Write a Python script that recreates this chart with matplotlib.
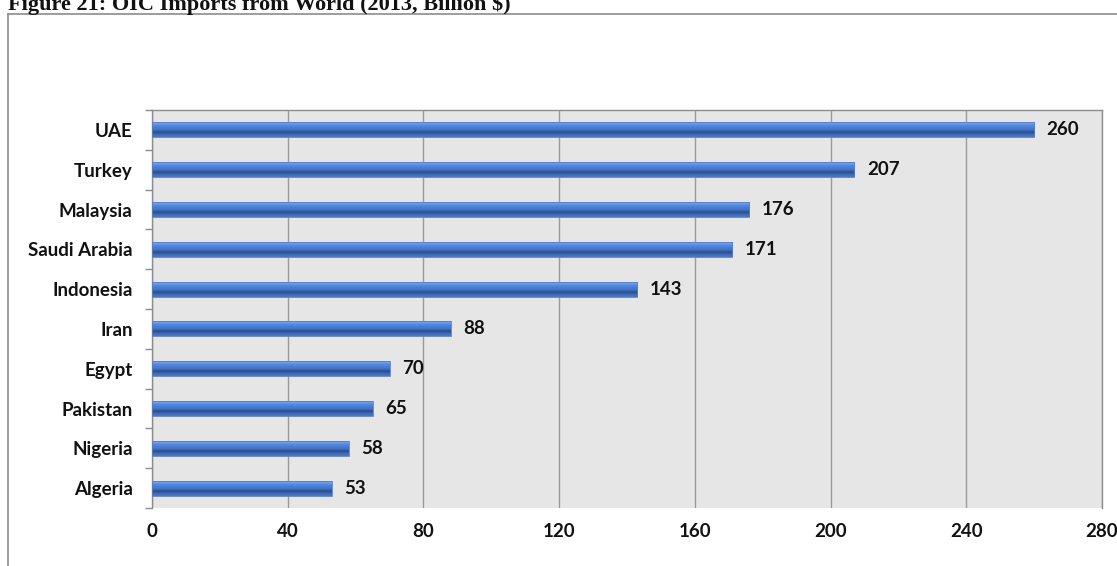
import matplotlib
matplotlib.use("Agg")
import matplotlib.pyplot as plt
import numpy as np
from matplotlib.colors import LinearSegmentedColormap
from matplotlib.patches import Rectangle
from matplotlib.lines import Line2D

countries = ["UAE", "Turkey", "Malaysia", "Saudi Arabia", "Indonesia", "Iran",
             "Egypt", "Pakistan", "Nigeria", "Algeria"]
values = [260, 207, 176, 171, 143, 88, 70, 65, 58, 53]
xticks = [0, 40, 80, 120, 160, 200, 240, 280]
title = "Figure 21: OIC Imports from World (2013, Billion $)"

W, H = 1117, 566
fig = plt.figure(figsize=(W / 100, H / 100), dpi=100)
fig.patch.set_facecolor("white")

# outer frame (left and top)
fig.add_artist(Line2D([8 / W, 8 / W], [0, 1 - 14 / H], transform=fig.transFigure,
                      color="#8c8c8c", lw=1.2))
fig.add_artist(Line2D([8 / W, 1], [1 - 14 / H, 1 - 14 / H], transform=fig.transFigure,
                      color="#8c8c8c", lw=1.2))

fig.text(8 / W, 1 - 10 / H, title, fontsize=16, fontweight="bold",
         family="Liberation Serif", ha="left", va="baseline", color="#111111")

ax = fig.add_axes([152 / W, 58 / H, 950 / W, 398 / H])
ax.set_facecolor("#e6e6e6")

y = np.arange(len(countries))
bars = ax.barh(y, values, height=0.38, color="#4a7fd8", zorder=3)

cmap = LinearSegmentedColormap.from_list("bevel", [
    (0.0, "#5a8ddf"), (0.12, "#74a4ef"), (0.28, "#5488dd"), (0.55, "#4172c6"),
    (0.70, "#2b4b87"), (0.82, "#3b65b0"), (1.0, "#4b7acb")])
grad = np.linspace(0, 1, 64).reshape(-1, 1)
for b in bars:
    x0, y0 = b.get_x(), b.get_y()
    w, h = b.get_width(), b.get_height()
    im = ax.imshow(grad, cmap=cmap, aspect="auto", extent=[x0, x0 + w, y0 + h, y0],
                   zorder=4, interpolation="bilinear")
    im.set_clip_path(b)
    ax.add_patch(Rectangle((x0, y0), w, h, fill=False, ec="#5b7fbf", lw=0.6, zorder=5))

fs = 13.5
for yi, v in zip(y, values):
    ax.annotate(str(v), (v, yi), xytext=(9, 0), textcoords="offset points",
                va="center", ha="left", fontsize=fs, fontweight="bold",
                family="Lato", color="#111111", zorder=6)

ax.set_xlim(0, 280)
ax.set_ylim(len(countries) - 0.5, -0.5)
ax.set_xticks(xticks)
ax.set_xticklabels([str(t) for t in xticks], fontsize=fs, fontweight="bold",
                   family="Lato", color="#111111")
ax.set_yticks(y)
ax.set_yticklabels(countries, fontsize=fs, fontweight="bold", family="Lato",
                   color="#111111")
ax.set_yticks(np.arange(-0.5, len(countries) + 0.5, 1), minor=True)
ax.tick_params(axis="y", which="major", length=0, pad=14)
ax.tick_params(axis="y", which="minor", length=5, color="#8c8c8c", width=1)
ax.tick_params(axis="x", which="major", length=0, pad=11)
ax.xaxis.grid(True, color="#9a9a9a", lw=1, zorder=1)
ax.set_axisbelow(True)
for s in ["left", "top", "right"]:
    ax.spines[s].set_color("#8c8c8c")
    ax.spines[s].set_linewidth(1)
ax.spines["bottom"].set_visible(False)

fig.savefig("out.png", dpi=100, facecolor="white")
